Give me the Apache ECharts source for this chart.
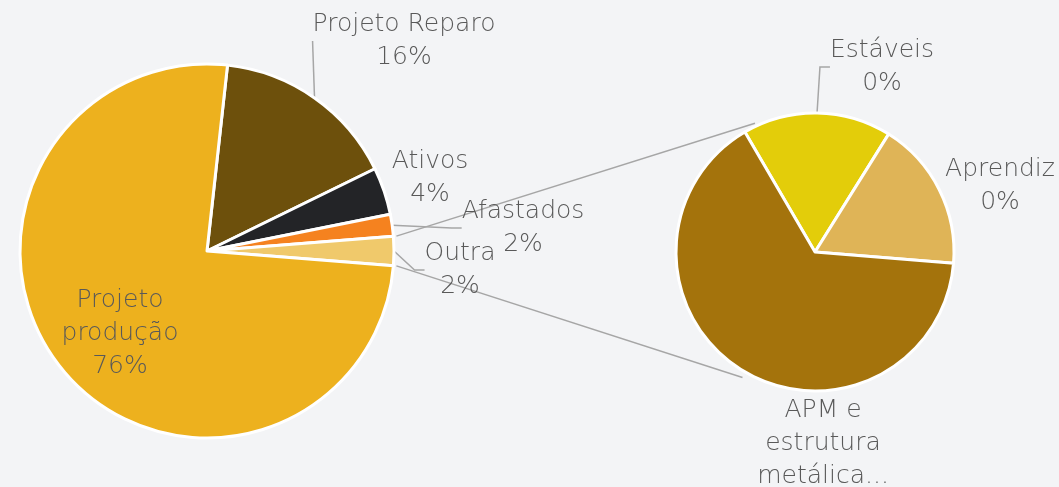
<!DOCTYPE html>
<html>
<head>
<meta charset="utf-8">
<style>
  html, body { margin: 0; padding: 0; background: #f3f4f6; }
  #chart { width: 1059px; height: 487px; }
</style>
<script src="https://cdn.jsdelivr.net/npm/echarts@6/dist/echarts.min.js"></script>
</head>
<body>
<div id="chart"></div>
<script>
// pizza principal
const mainNames = ['Projeto Reparo', 'Ativos', 'Afastados', 'Outra', 'Projeto\nprodução'];
const mainShares = [16.0, 4.1, 1.9, 2.5, 75.5];
const mainPct = ['16%', '4%', '2%', '2%', '76%'];
const mainColors = ['#6d500c', '#232427', '#f5821f', '#f0c96b', '#edb11e'];

// pizza secundária (detalhe de "Outra")
const subNames = ['Estáveis', 'Aprendiz', 'APM e\nestrutura\nmetálica...'];
const subShares = [17.3, 17.4, 65.3];
const subPct = ['0%', '0%', ''];
const subColors = ['#e3cd0a', '#dfb457', '#a4730c'];

const mainC = [207, 251], mainR = 187;
const subC = [815, 252], subR = 139;
const mainStart = 6.3;   // graus, sentido horário a partir do topo
const subStart = -30.3;

const chart = echarts.init(document.getElementById('chart'), null, { renderer: 'canvas' });

const labelFont = {
  fontFamily: '"DejaVu Sans", sans-serif',
  fontWeight: 200,
  fontSize: 25,
  lineHeight: 33,
  color: '#595959'
};

// posições dos rótulos (layout apenas)
const mainLabelPos = [
  { x: 404, y: 41, line: true },
  { x: 430, y: 178, line: false },
  { x: 523, y: 228, line: true },
  { x: 460, y: 270, line: true },
  { x: 120, y: 333, line: false }
];
const subLabelPos = [
  { x: 882, y: 67, line: true },
  { x: 1000, y: 186, line: false },
  { x: 823, y: 443, line: false }
];

function polar(c, r, degCw) {
  const a = degCw * Math.PI / 180;
  return [c[0] + r * Math.sin(a), c[1] - r * Math.cos(a)];
}

// linhas de ligação a partir da fatia "Outra"
const total = mainShares.reduce((a, b) => a + b, 0);
const outraIdx = 3;
const before = mainShares.slice(0, outraIdx).reduce((a, b) => a + b, 0);
const outraA0 = mainStart + before / total * 360;
const outraA1 = outraA0 + mainShares[outraIdx] / total * 360;
const p0 = polar(mainC, mainR + 3, outraA0);
const p1 = polar(mainC, mainR + 3, outraA1);
const q0 = polar(subC, subR + 3, -25);
const q1 = polar(subC, subR + 6, 210);

const lineStyle = { stroke: '#a6a6a6', lineWidth: 1.5 };

function makeData(names, shares, colors, pos) {
  return names.map((n, i) => ({
    name: n,
    value: shares[i],
    itemStyle: { color: colors[i] },
    labelLine: { show: pos[i].line }
  }));
}

const option = {
  backgroundColor: '#f3f4f6',
  animation: false,
  graphic: [
    { type: 'line', shape: { x1: p0[0], y1: p0[1], x2: q0[0], y2: q0[1] }, style: lineStyle, z: 1 },
    { type: 'line', shape: { x1: p1[0], y1: p1[1], x2: q1[0], y2: q1[1] }, style: lineStyle, z: 1 }
  ],
  series: [
    {
      type: 'pie',
      center: mainC,
      radius: mainR,
      startAngle: 90 - mainStart,
      clockwise: true,
      avoidLabelOverlap: false,
      itemStyle: { borderColor: '#ffffff', borderWidth: 3 },
      label: Object.assign({
        show: true,
        position: 'outside',
        formatter: p => p.name + '\n' + mainPct[p.dataIndex]
      }, labelFont),
      labelLine: { show: true, length: 10, length2: 10, lineStyle: { color: '#a6a6a6', width: 1.5 } },
      labelLayout: p => ({
        x: mainLabelPos[p.dataIndex].x,
        y: mainLabelPos[p.dataIndex].y,
        align: 'center',
        verticalAlign: 'middle'
      }),
      data: makeData(mainNames, mainShares, mainColors, mainLabelPos),
      z: 2
    },
    {
      type: 'pie',
      center: subC,
      radius: subR,
      startAngle: 90 - subStart,
      clockwise: true,
      avoidLabelOverlap: false,
      itemStyle: { borderColor: '#ffffff', borderWidth: 3 },
      label: Object.assign({
        show: true,
        position: 'outside',
        formatter: p => subPct[p.dataIndex] ? p.name + '\n' + subPct[p.dataIndex] : p.name
      }, labelFont),
      labelLine: { show: true, length: 10, length2: 10, lineStyle: { color: '#a6a6a6', width: 1.5 } },
      labelLayout: p => ({
        x: subLabelPos[p.dataIndex].x,
        y: subLabelPos[p.dataIndex].y,
        align: 'center',
        verticalAlign: 'middle'
      }),
      data: makeData(subNames, subShares, subColors, subLabelPos),
      z: 2
    }
  ]
};

chart.setOption(option);
</script>
</body>
</html>
